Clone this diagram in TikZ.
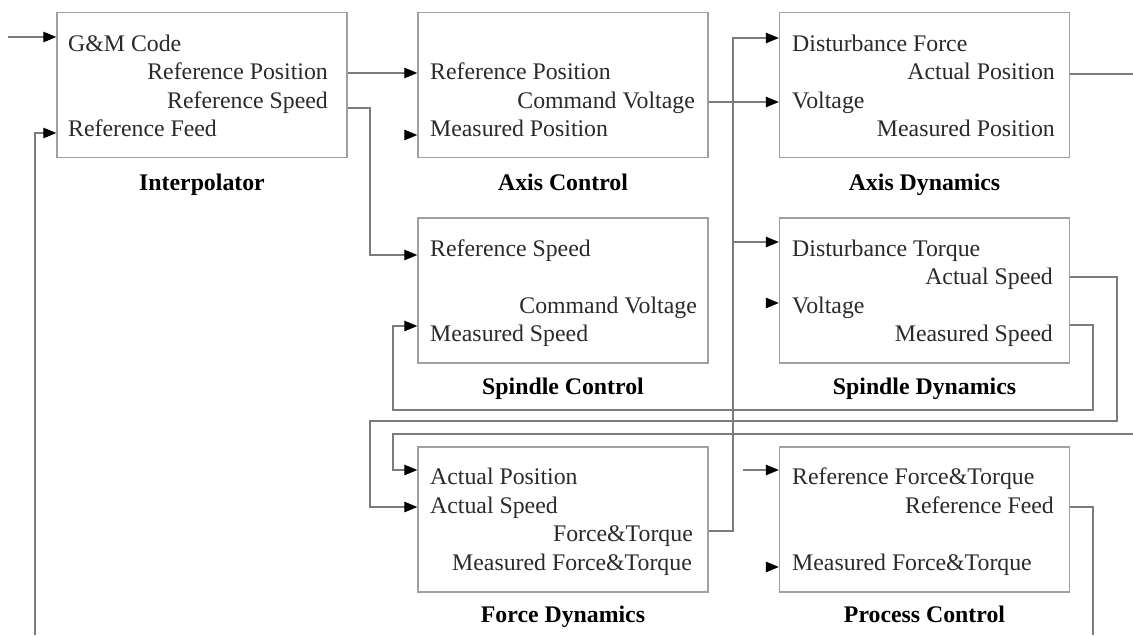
\documentclass[tikz,border=0pt]{standalone}
\usepackage{fontspec}
\setmainfont{Liberation Serif}
\usetikzlibrary{arrows.meta}
\definecolor{linegray}{HTML}{7C7C7C}
\definecolor{boxgray}{HTML}{A0A0A0}
\definecolor{txtgray}{HTML}{2A2A2A}
\begin{document}
\begin{tikzpicture}[x=1pt,y=-1pt,
  blk/.style={draw=boxgray, line width=1.4pt, minimum width=290pt, minimum height=145pt, inner sep=0pt},
  portl/.style={font=\fontsize{23.8}{28}\selectfont, text=txtgray, inner sep=0pt, anchor=base west},
  portr/.style={font=\fontsize{23.8}{28}\selectfont, text=txtgray, inner sep=0pt, anchor=base east},
  ttl/.style={font=\fontsize{23.8}{28}\selectfont\bfseries, text=black, inner sep=0pt, anchor=base},
  wire/.style={draw=linegray, line width=1.2pt},
  arr/.style={wire, -{Triangle[length=13pt,width=10.5pt,color=black]}}]
\useasboundingbox (0,0) rectangle (1133,635);
\fill[white] (0,0) rectangle (1133,635);

% blocks
\node[blk] (ip) at (202,85) {};
\node[blk] (ac) at (563,85) {};
\node[blk] (ad) at (924.5,85) {};
\node[blk] (sc) at (563,290.5) {};
\node[blk] (sd) at (924.5,290.5) {};
\node[blk] (fd) at (563,519.5) {};
\node[blk] (pc) at (924.5,519.5) {};

% titles
\node[ttl] (ipt) at (202,190.5) {Interpolator};
\node[ttl] (act) at (563,190.5) {Axis Control};
\node[ttl] (adt) at (924.5,190.5) {Axis Dynamics};
\node[ttl] (sct) at (563,394) {Spindle Control};
\node[ttl] (sdt) at (924.5,394) {Spindle Dynamics};
\node[ttl] (fdt) at (563,622) {Force Dynamics};
\node[ttl] (pct) at (924.5,622) {Process Control};

% Interpolator ports
\node[portl] (ip1) at (68,51) {G\&M Code};
\node[portr] (ip2) at (328,79.5) {Reference Position};
\node[portr] (ip3) at (328,108) {Reference Speed};
\node[portl] (ip4) at (68,136.5) {Reference Feed};

% Axis Control ports
\node[portl] (ac1) at (430,79.5) {Reference Position};
\node[portr] (ac2) at (695,108) {Command Voltage};
\node[portl] (ac3) at (430,136.5) {Measured Position};

% Axis Dynamics ports
\node[portl] (ad1) at (792,51) {Disturbance Force};
\node[portr] (ad2) at (1055,79.5) {Actual Position};
\node[portl] (ad3) at (792,108) {Voltage};
\node[portr] (ad4) at (1055,136.5) {Measured Position};

% Spindle Control ports
\node[portl] (sc1) at (430,256) {Reference Speed};
\node[portr] (sc2) at (697,313) {Command Voltage};
\node[portl] (sc3) at (430,341.5) {Measured Speed};

% Spindle Dynamics ports
\node[portl] (sd1) at (792,256) {Disturbance Torque};
\node[portr] (sd2) at (1053,284.5) {Actual Speed};
\node[portl] (sd3) at (792,313) {Voltage};
\node[portr] (sd4) at (1053,341.5) {Measured Speed};

% Force Dynamics ports
\node[portl] (fd1) at (430,484) {Actual Position};
\node[portl] (fd2) at (430,513) {Actual Speed};
\node[portr] (fd3) at (693,541.5) {Force\&Torque};
\node[portr] (fd4) at (692,570) {Measured Force\&Torque};

% Process Control ports
\node[portl] (pc1) at (792,484) {Reference Force\&Torque};
\node[portr] (pc2) at (1054,513) {Reference Feed};
\node[portl] (pc3) at (792,570) {Measured Force\&Torque};

% free ends
\coordinate (gmsrc) at (8,37);
\coordinate (feedsrc) at (35,635);
\coordinate (apout) at (1133,74);
\coordinate (apin) at (1133,434);
\coordinate (feedout) at (1093,635);
\coordinate (junc) at (733,242);

% connectors
\draw[arr] (gmsrc) -- (gmsrc -| ip.west);
\draw[arr] (feedsrc) |- (ip.west |- 0,133);
\draw[arr] (ip.east |- 0,73) -- (ac.west |- 0,73);
\draw[arr] (ip.east |- 0,108) -- (370,108) -- (370,255) -- (sc.west |- 0,255);
\draw[arr] (ac.east |- 0,102) -- (ad.west |- 0,102);
\draw[arr] (405,135) -- (ac.west |- 0,135);
\draw[arr] (fd.east |- 0,531) -- (733,531) -- (733,38) -- (ad.west |- 0,38);
\draw[arr] (junc) -- (sd.west |- junc);
\draw[wire] (ad.east |- apout) -- (apout);
\draw[arr] (apin) -- (393,434) -- (393,470) -- (fd.west |- 0,470);
\draw[arr] (sd.east |- 0,277) -- (1117,277) -- (1117,421) -- (370,421) -- (370,507) -- (fd.west |- 0,507);
\draw[arr] (sd.east |- 0,325) -- (1093,325) -- (1093,410) -- (393,410) -- (393,326) -- (sc.west |- 0,326);
\draw[arr] (767,303) -- (sd.west |- 0,303);
\draw[arr] (743,470) -- (pc.west |- 0,470);
\draw[arr] (767,567) -- (pc.west |- 0,567);
\draw[wire] (pc.east |- 0,507) -- (1093,507) -- (feedout);
\end{tikzpicture}
\end{document}
